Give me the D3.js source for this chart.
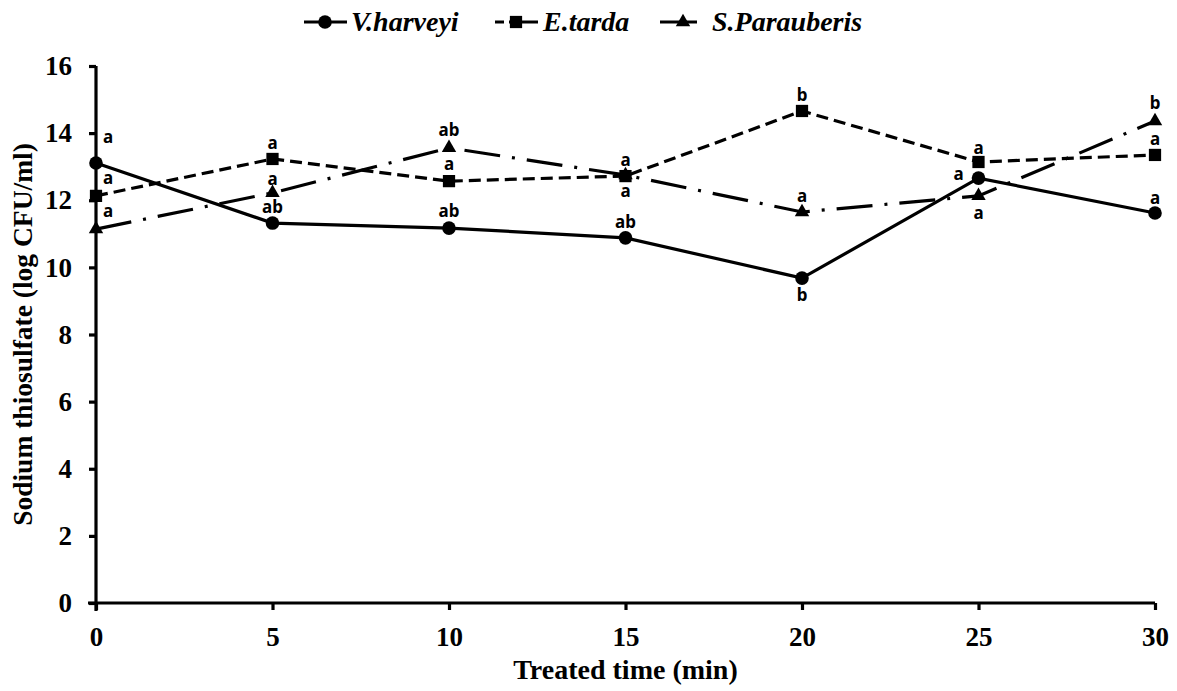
<!DOCTYPE html>
<html>
<head>
<meta charset="utf-8">
<script src="https://cdn.jsdelivr.net/npm/d3@7"></script>
<style>
  html, body { margin: 0; padding: 0; background: #fff; }
  svg { display: block; }
  .serif { font-family: "Times New Roman", "Liberation Serif", "DejaVu Serif", serif; font-weight: bold; }
  .sig { font-family: "Noto Sans", "Open Sans", sans-serif; font-weight: bold; }
</style>
</head>
<body>
<svg id="chart" width="1177" height="691"></svg>
<script>
// Treated time (min)
const times = [0, 5, 10, 15, 20, 25, 30];
const yTicks = [0, 2, 4, 6, 8, 10, 12, 14, 16];

const seriesNames = ["V.harveyi", "E.tarda", "S.Parauberis"];
const vHarveyi    = [13.11, 11.32, 11.17, 10.88, 9.68, 12.66, 11.62];
const eTarda      = [12.13, 13.23, 12.57, 12.72, 14.66, 13.14, 13.35];
const sParauberis = [11.14, 12.22, 13.56, 12.75, 11.65, 12.13, 14.36];

// significance letters per point
const vHarveyiSig    = ["a", "ab", "ab", "ab", "b", "a", "a"];
const eTardaSig      = ["a", "a", "a", "a", "b", "a", "a"];
const sParauberisSig = ["a", "a", "ab", "a", "a", "a", "b"];

const svg = d3.select("#chart");
const margin = { left: 96, right: 22, top: 66, bottom: 88 };
const W = 1177, H = 691;

const x = d3.scaleLinear().domain([0, 30]).range([margin.left, W - margin.right]);
const y = d3.scaleLinear().domain([0, 16]).range([H - margin.bottom, margin.top]);

// axes
const xAxis = svg.append("g")
  .attr("transform", `translate(0,${y(0)})`)
  .call(d3.axisBottom(x).tickValues(times).tickSize(7).tickPadding(17).tickFormat(d3.format("d")));
const yAxis = svg.append("g")
  .attr("transform", `translate(${x(0)},0)`)
  .call(d3.axisLeft(y).tickValues(yTicks).tickSize(7).tickPadding(17).tickFormat(d3.format("d")));

[xAxis, yAxis].forEach(g => {
  g.attr("font-family", null).attr("font-size", null);
  g.select(".domain").attr("stroke", "#000").attr("stroke-width", 3.2);
  g.selectAll(".tick line").attr("stroke", "#000").attr("stroke-width", 3.2);
  g.selectAll(".tick text")
    .attr("class", "serif")
    .attr("fill", "#000")
    .style("font-size", "27px");
});
xAxis.select(".domain").attr("d", `M${x(0) - 8},0H${x(30)}`);
yAxis.select(".domain").attr("d", `M0,${y(16)}V${y(0) + 8}`);

// axis titles
svg.append("text")
  .attr("class", "serif")
  .attr("x", (x(0) + x(30)) / 2)
  .attr("y", 679)
  .attr("text-anchor", "middle")
  .style("font-size", "28px")
  .text("Treated time (min)");

svg.append("text")
  .attr("class", "serif")
  .attr("transform", `translate(32,${(y(0) + y(16)) / 2}) rotate(-90)`)
  .attr("text-anchor", "middle")
  .style("font-size", "27.5px")
  .text("Sodium thiosulfate (log CFU/ml)");

// series definitions
const dashE = "12,6";
const dashS = "36,12,3,12";
const series = [
  { name: seriesNames[0], values: vHarveyi, sig: vHarveyiSig, dash: null, marker: "circle" },
  { name: seriesNames[1], values: eTarda, sig: eTardaSig, dash: dashE, marker: "square" },
  { name: seriesNames[2], values: sParauberis, sig: sParauberisSig, dash: dashS, marker: "triangle" }
];

const symbolFor = m => m === "circle" ? d3.symbol().type(d3.symbolCircle).size(145)
  : m === "square" ? d3.symbol().type(d3.symbolSquare).size(150)
  : d3.symbol().type(d3.symbolTriangle).size(90);

const line = d3.line().x((d, i) => x(times[i])).y(d => y(d));

const plot = svg.append("g");
series.forEach(s => {
  plot.append("path")
    .datum(s.values)
    .attr("fill", "none")
    .attr("stroke", "#000")
    .attr("stroke-width", 3.2)
    .attr("stroke-dasharray", s.dash)
    .attr("d", line);
});
series.forEach(s => {
  plot.selectAll(null)
    .data(s.values)
    .enter().append("path")
    .attr("transform", (d, i) => `translate(${x(times[i])},${y(d)})`)
    .attr("d", symbolFor(s.marker))
    .attr("fill", "#000");
});

// significance letter placement: [dx, dy] relative to the point
const placeV = [[12, -20], [0, -10], [0, -11], [0, -10], [0, 23], [-20, 2], [0, -9]];
const placeE = [[12, -12], [0, -10], [0, -11], [0, -10], [0, -10], [0, -8], [0, -10]];
const placeS = [[12, -12], [0, -8], [0, -12], [0, 22], [0, -10], [0, 23], [0, -12]];
const places = [placeV, placeE, placeS];

series.forEach((s, k) => {
  plot.selectAll(null)
    .data(s.values)
    .enter().append("text")
    .attr("class", "sig")
    .attr("x", (d, i) => x(times[i]) + places[k][i][0])
    .attr("y", (d, i) => y(d) + places[k][i][1])
    .attr("text-anchor", "middle")
    .style("font-size", "17px")
    .text((d, i) => s.sig[i]);
});

// legend
const legendItems = [
  { s: series[0], x0: 304, x1: 347, mx: 325, tx: 351 },
  { s: series[1], x0: 495, x1: 538, mx: 516, tx: 543 },
  { s: series[2], x0: 660, x1: 697, mx: 683, tx: 712 }
];
const lg = svg.append("g");
legendItems.forEach(it => {
  lg.append("line")
    .attr("x1", it.x0).attr("x2", it.x1).attr("y1", 22).attr("y2", 22)
    .attr("stroke", "#000").attr("stroke-width", 3.2)
    .attr("stroke-dasharray", it.s.dash === dashE ? "9,5,29" : null);
  lg.append("path")
    .attr("transform", `translate(${it.mx},22)`)
    .attr("d", symbolFor(it.s.marker))
    .attr("fill", "#000");
  lg.append("text")
    .attr("class", "serif")
    .attr("x", it.tx).attr("y", 31)
    .style("font-style", "italic")
    .style("font-size", "28px")
    .text(it.s.name);
});
</script>
</body>
</html>
